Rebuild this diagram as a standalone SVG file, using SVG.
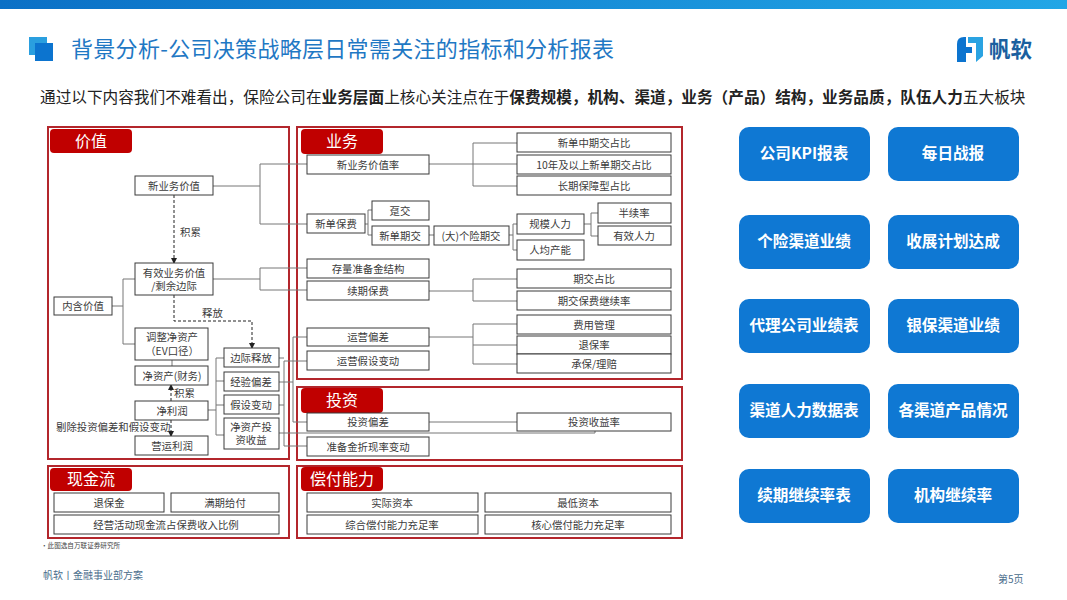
<svg xmlns="http://www.w3.org/2000/svg" width="1067" height="600" viewBox="0 0 1067 600">
<defs>
<linearGradient id="bar" x1="0" y1="0" x2="1" y2="0"><stop offset="0" stop-color="#0b70c6"/><stop offset="1" stop-color="#22a6e6"/></linearGradient>
<marker id="ah" viewBox="0 0 6 6" refX="5" refY="3" markerWidth="6" markerHeight="6" orient="auto"><path d="M0 0L6 3L0 6Z" fill="#222"/></marker>
</defs>
<style>
text{font-family:"Noto Sans CJK SC","Noto Sans",sans-serif}
.panel{fill:none;stroke:#b3262c;stroke-width:2}
.tab{fill:#c00000}
.tabt{fill:#fff;font-size:16px;text-anchor:middle}
.box{fill:#fff;stroke:#3a3a3a;stroke-width:1}
.t{fill:#3c3c3c;font-size:10.4px;text-anchor:middle}
.lab{fill:#3c3c3c;font-size:10.4px}
.ln{fill:none;stroke:#777;stroke-width:1}
.dash{fill:none;stroke:#222;stroke-width:1;stroke-dasharray:3 2;marker-end:url(#ah)}
.btn{fill:#0f78d3}
.btnt{fill:#fff;font-size:15.6px;font-weight:700;text-anchor:middle}
</style>
<rect width="1067" height="600" fill="#fff"/>
<rect width="1067" height="9" fill="url(#bar)"/>
<g id="title-icon"><rect x="29" y="37" width="18" height="18" fill="#2a9fdf"/><rect x="35" y="43" width="18" height="18" fill="#0c74cf"/></g>
<text x="71" y="57" font-size="22" fill="#1f78c4" textLength="543" lengthAdjust="spacing">背景分析-公司决策战略层日常需关注的指标和分析报表</text>
<g id="logo">
<path d="M957 44Q957 37 964 37H966V47H972V53H966V62H957Z" fill="#0c74cf"/>
<path d="M968 37H983V56L976 62V43H968Z" fill="#2aa3e2"/>
<text x="989" y="57" font-size="21.5" font-weight="700" fill="#1a5f9f">帆软</text>
</g>
<text x="40" y="103" font-size="15.65" fill="#222">通过以下内容我们不难看出，保险公司在<tspan font-weight="700">业务层面</tspan>上核心关注点在于<tspan font-weight="700">保费规模，机构、渠道，业务（产品）结构，业务品质，队伍人力</tspan>五大板块</text>

<g id="panels">
<rect class="panel" x="48" y="127" width="241" height="332"/>
<rect class="panel" x="48" y="466" width="241" height="72"/>
<rect class="panel" x="297" y="127" width="385" height="252"/>
<rect class="panel" x="297" y="387" width="385" height="73"/>
<rect class="panel" x="297" y="466" width="385" height="72"/>
<rect class="tab" x="50" y="129" width="82" height="24" rx="4"/><text class="tabt" x="91" y="147">价值</text>
<rect class="tab" x="50" y="468" width="82" height="23" rx="4"/><text class="tabt" x="91" y="485">现金流</text>
<rect class="tab" x="301" y="129" width="82" height="25" rx="4"/><text class="tabt" x="342" y="147">业务</text>
<rect class="tab" x="301" y="388" width="82" height="25" rx="4"/><text class="tabt" x="342" y="406">投资</text>
<rect class="tab" x="301" y="467" width="82" height="24" rx="4"/><text class="tabt" x="342" y="485">偿付能力</text>
</g>

<g id="connectors">
<path class="ln" d="M213 186H260M260 164V224M260 164H307M260 224H307"/>
<path class="ln" d="M213 279H260M260 268V290M260 268H307M260 290H307"/>
<path class="ln" d="M112 306H123M123 279V344M123 279H135M123 344H135"/>
<path class="ln" d="M172 360V366"/>
<path class="ln" d="M208 410H216M216 358V435M216 358H224M216 381H224M216 405H224M216 435H224"/>
<path class="ln" d="M284 361V446M284 361H307M284 446H307M279 358H284M279 405H284"/>
<path class="ln" d="M279 382H293M293 337V422M293 337H307M293 422H307"/>
<path class="ln" d="M279 433H595V431"/>
<path class="ln" d="M429 164H473M473 143V186M473 143H517M473 164H517M473 186H517"/>
<path class="ln" d="M365 224H368M368 210V235M368 210H372M368 235H372"/>
<path class="ln" d="M429 235H434M509 235H513M513 224V250M513 224H517M513 250H517"/>
<path class="ln" d="M584 224H591M591 213V236M591 213H598M591 236H598"/>
<path class="ln" d="M429 291H473M473 279V301M473 279H517M473 301H517"/>
<path class="ln" d="M429 337H473M473 324V364M473 324H517M473 345H517M473 364H517"/>
<path class="ln" d="M429 422H517"/>
<path class="dash" d="M174 195V263"/>
<path class="dash" d="M174 295V321H252V348"/>
<path class="dash" d="M171 401V385"/>
<path class="dash" d="M171 420V436"/>
</g>
<text class="lab" x="180" y="236">积累</text>
<text class="lab" x="202" y="317">释放</text>
<text class="lab" x="174" y="397">积累</text>
<text class="lab" x="56" y="431">剔除投资偏差和假设变动</text>

<g id="n-xinyewujiazhi"><rect class="box" x="135" y="176" width="78" height="19"/><text class="t" x="174" y="190">新业务价值</text></g>
<g id="n-youxiao"><rect class="box" x="135" y="263" width="78" height="32"/><text class="t" x="174" y="277">有效业务价值</text><text class="t" x="174" y="290">/剩余边际</text></g>
<g id="n-neihan"><rect class="box" x="54" y="297" width="58" height="18"/><text class="t" x="83" y="310">内含价值</text></g>
<g id="n-tiaozheng"><rect class="box" x="135" y="328" width="73" height="32"/><text class="t" x="172" y="341">调整净资产</text><text class="t" x="172" y="355">（EV口径）</text></g>
<g id="n-jingzichan"><rect class="box" x="135" y="366" width="73" height="19"/><text class="t" x="172" y="380">净资产(财务)</text></g>
<g id="n-jinglirun"><rect class="box" x="135" y="401" width="73" height="19"/><text class="t" x="172" y="415">净利润</text></g>
<g id="n-yingyun"><rect class="box" x="135" y="436" width="73" height="19"/><text class="t" x="172" y="450">营运利润</text></g>
<g id="n-bianji"><rect class="box" x="224" y="348" width="55" height="19"/><text class="t" x="251" y="362">边际释放</text></g>
<g id="n-jingyan"><rect class="box" x="224" y="372" width="55" height="19"/><text class="t" x="251" y="386">经验偏差</text></g>
<g id="n-jiashe"><rect class="box" x="224" y="395" width="55" height="19"/><text class="t" x="251" y="409">假设变动</text></g>
<g id="n-jzctz"><rect class="box" x="224" y="418" width="55" height="31"/><text class="t" x="251" y="431">净资产投</text><text class="t" x="251" y="444">资收益</text></g>
<g id="n-tuibaojin"><rect class="box" x="54" y="493" width="110" height="19"/><text class="t" x="109" y="507">退保金</text></g>
<g id="n-manqi"><rect class="box" x="171" y="493" width="108" height="19"/><text class="t" x="225" y="507">满期给付</text></g>
<g id="n-jingying"><rect class="box" x="54" y="515" width="225" height="19"/><text class="t" x="166" y="529">经营活动现金流占保费收入比例</text></g>

<g id="n-xywjzl"><rect class="box" x="307" y="155" width="122" height="19"/><text class="t" x="368" y="169">新业务价值率</text></g>
<g id="n-xdzq"><rect class="box" x="517" y="133" width="154" height="19"/><text class="t" x="594" y="147">新单中期交占比</text></g>
<g id="n-10n"><rect class="box" x="517" y="155" width="154" height="19"/><text class="t" x="594" y="169">10年及以上新单期交占比</text></g>
<g id="n-cq"><rect class="box" x="517" y="176" width="154" height="19"/><text class="t" x="594" y="190">长期保障型占比</text></g>
<g id="n-xdbf"><rect class="box" x="307" y="214" width="58" height="19"/><text class="t" x="336" y="228">新单保费</text></g>
<g id="n-dj"><rect class="box" x="372" y="201" width="57" height="19"/><text class="t" x="400" y="215">趸交</text></g>
<g id="n-xdqj"><rect class="box" x="372" y="226" width="57" height="19"/><text class="t" x="400" y="240">新单期交</text></g>
<g id="n-gx"><rect class="box" x="434" y="226" width="75" height="19"/><text class="t" x="471" y="240">(大)个险期交</text></g>
<g id="n-gm"><rect class="box" x="517" y="214" width="67" height="20"/><text class="t" x="550" y="228">规模人力</text></g>
<g id="n-rj"><rect class="box" x="517" y="240" width="67" height="20"/><text class="t" x="550" y="254">人均产能</text></g>
<g id="n-bx"><rect class="box" x="598" y="203" width="73" height="20"/><text class="t" x="634" y="217">半续率</text></g>
<g id="n-yx"><rect class="box" x="598" y="226" width="73" height="19"/><text class="t" x="634" y="240">有效人力</text></g>
<g id="n-cl"><rect class="box" x="307" y="259" width="122" height="19"/><text class="t" x="368" y="273">存量准备金结构</text></g>
<g id="n-xq"><rect class="box" x="307" y="281" width="122" height="19"/><text class="t" x="368" y="295">续期保费</text></g>
<g id="n-qj"><rect class="box" x="517" y="269" width="154" height="19"/><text class="t" x="594" y="283">期交占比</text></g>
<g id="n-qjbf"><rect class="box" x="517" y="291" width="154" height="19"/><text class="t" x="594" y="305">期交保费继续率</text></g>
<g id="n-fy"><rect class="box" x="517" y="315" width="154" height="19"/><text class="t" x="594" y="329">费用管理</text></g>
<g id="n-tb"><rect class="box" x="517" y="336" width="154" height="18"/><text class="t" x="594" y="349">退保率</text></g>
<g id="n-cb"><rect class="box" x="517" y="354" width="154" height="19"/><text class="t" x="594" y="368">承保/理赔</text></g>
<g id="n-yypc"><rect class="box" x="307" y="328" width="122" height="18"/><text class="t" x="368" y="341">运营偏差</text></g>
<g id="n-yyjs"><rect class="box" x="307" y="351" width="122" height="19"/><text class="t" x="368" y="365">运营假设变动</text></g>
<g id="n-tzpc"><rect class="box" x="307" y="413" width="122" height="18"/><text class="t" x="368" y="426">投资偏差</text></g>
<g id="n-tzsy"><rect class="box" x="517" y="413" width="154" height="18"/><text class="t" x="594" y="426">投资收益率</text></g>
<g id="n-zbj"><rect class="box" x="307" y="437" width="122" height="19"/><text class="t" x="368" y="451">准备金折现率变动</text></g>
<g id="n-sj"><rect class="box" x="307" y="493" width="171" height="19"/><text class="t" x="392" y="507">实际资本</text></g>
<g id="n-zd"><rect class="box" x="485" y="493" width="186" height="19"/><text class="t" x="578" y="507">最低资本</text></g>
<g id="n-zh"><rect class="box" x="307" y="515" width="171" height="19"/><text class="t" x="392" y="529">综合偿付能力充足率</text></g>
<g id="n-hx"><rect class="box" x="485" y="515" width="186" height="19"/><text class="t" x="578" y="529">核心偿付能力充足率</text></g>

<g id="b1"><rect class="btn" x="739" y="127" width="131" height="54" rx="10"/><text class="btnt" x="804" y="159">公司KPI报表</text></g>
<g id="b2"><rect class="btn" x="888" y="127" width="131" height="54" rx="10"/><text class="btnt" x="953" y="159">每日战报</text></g>
<g id="b3"><rect class="btn" x="739" y="215" width="131" height="54" rx="10"/><text class="btnt" x="804" y="247">个险渠道业绩</text></g>
<g id="b4"><rect class="btn" x="888" y="215" width="131" height="54" rx="10"/><text class="btnt" x="953" y="247">收展计划达成</text></g>
<g id="b5"><rect class="btn" x="739" y="299" width="131" height="54" rx="10"/><text class="btnt" x="804" y="331">代理公司业绩表</text></g>
<g id="b6"><rect class="btn" x="888" y="299" width="131" height="54" rx="10"/><text class="btnt" x="953" y="331">银保渠道业绩</text></g>
<g id="b7"><rect class="btn" x="739" y="384" width="131" height="54" rx="10"/><text class="btnt" x="804" y="416">渠道人力数据表</text></g>
<g id="b8"><rect class="btn" x="888" y="384" width="131" height="54" rx="10"/><text class="btnt" x="953" y="416">各渠道产品情况</text></g>
<g id="b9"><rect class="btn" x="739" y="469" width="131" height="54" rx="10"/><text class="btnt" x="804" y="501">续期继续率表</text></g>
<g id="b10"><rect class="btn" x="888" y="469" width="131" height="54" rx="10"/><text class="btnt" x="953" y="501">机构继续率</text></g>

<text x="41" y="548" font-size="6.6" fill="#444">·此图选自万联证券研究所</text>
<text x="43" y="579" font-size="10" fill="#4a6d8c">帆软丨金融事业部方案</text>
<text x="998" y="583" font-size="10" fill="#4a6d8c">第5页</text>
</svg>
